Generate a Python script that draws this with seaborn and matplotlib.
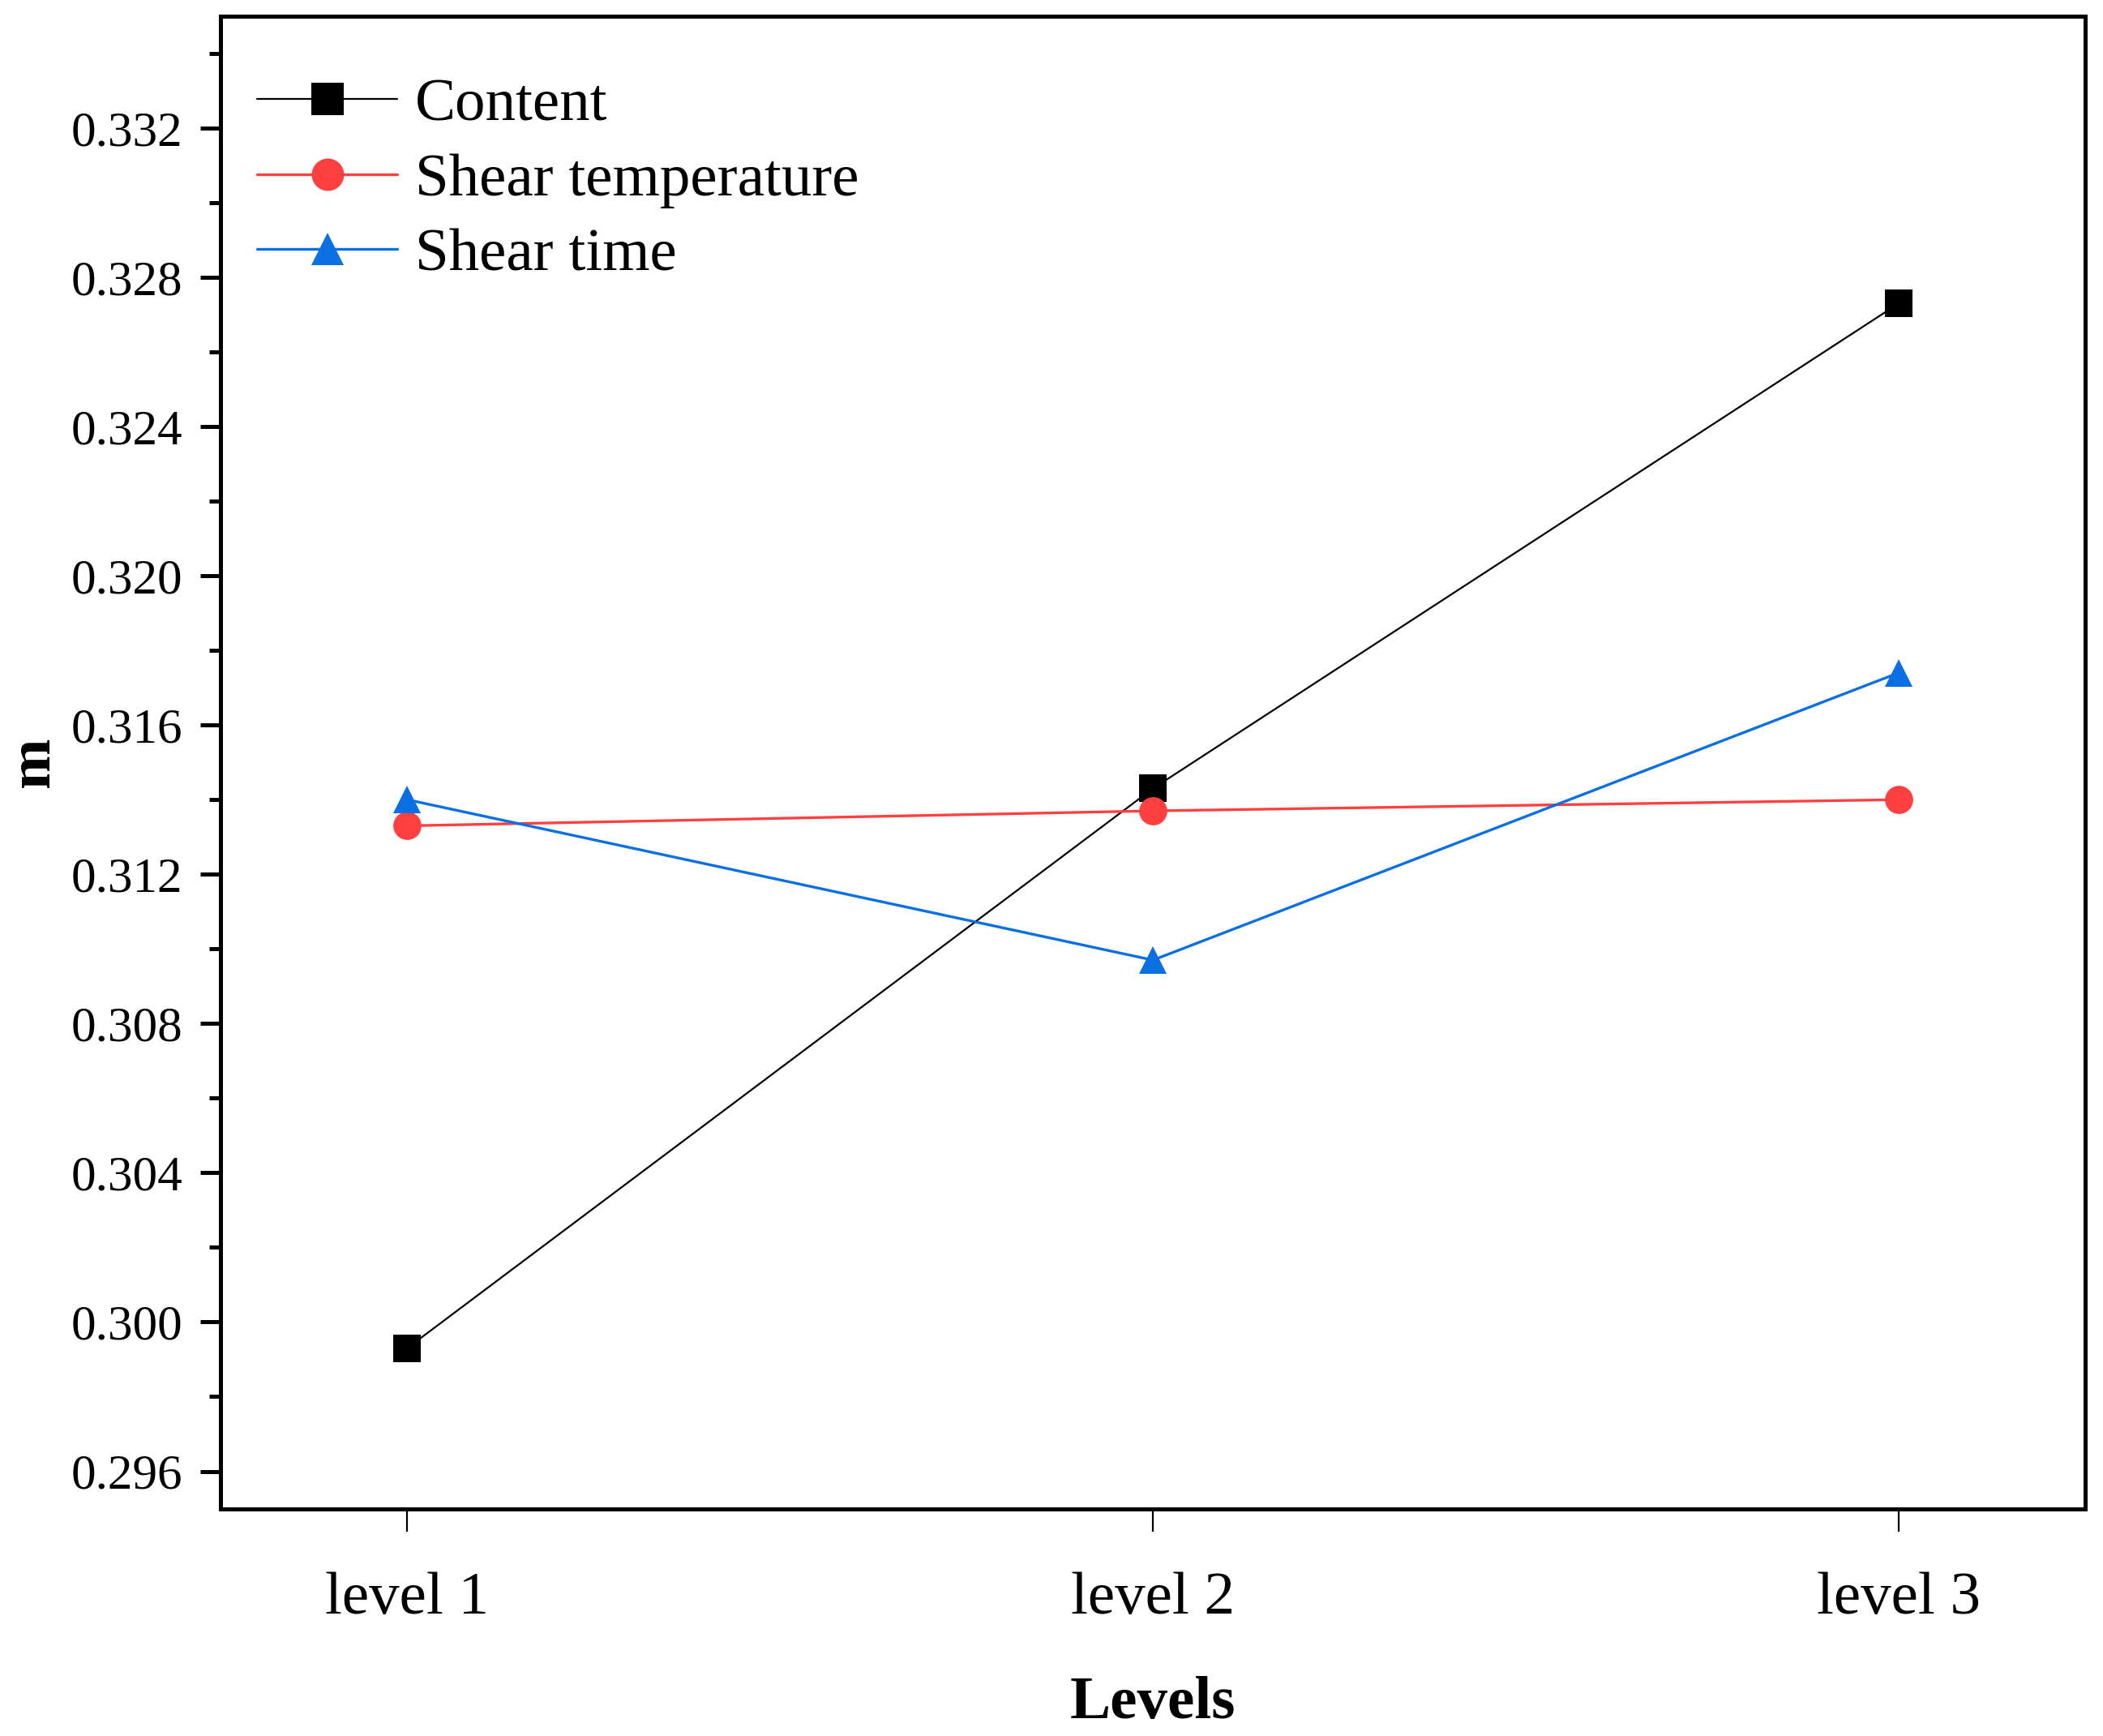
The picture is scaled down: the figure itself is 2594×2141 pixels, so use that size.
import pandas as pd
import seaborn as sns
import matplotlib.pyplot as plt
from matplotlib.ticker import MultipleLocator

levels = ['level 1', 'level 2', 'level 3']
content = [0.2993, 0.3143, 0.3273]
shear_temperature = [0.3133, 0.3137, 0.3140]
shear_time = [0.3140, 0.3097, 0.3174]

series = {'Content': content, 'Shear temperature': shear_temperature, 'Shear time': shear_time}
colors = {'Content': 'black', 'Shear temperature': '#FF4040', 'Shear time': '#0A6FE3'}
markers = {'Content': 's', 'Shear temperature': 'o', 'Shear time': '^'}
widths = {'Content': 0.8, 'Shear temperature': 1.2, 'Shear time': 1.2}

sns.set_style('ticks')
plt.rcParams['font.family'] = ['Liberation Serif', 'DejaVu Serif']
plt.rcParams['text.color'] = 'black'
plt.rcParams['axes.labelcolor'] = 'black'
plt.rcParams['xtick.color'] = 'black'
plt.rcParams['ytick.color'] = 'black'

fig = plt.figure(figsize=(12.97, 10.705), dpi=200)
ax = fig.add_axes([0.105, 0.131, 0.8865, 0.8597])

for name, vals in series.items():
  df = pd.DataFrame({'level': range(len(levels)), 'm': vals})
  sns.lineplot(data=df, x='level', y='m', ax=ax, color=colors[name], marker=markers[name],
               markersize=12.5, markeredgewidth=0, linewidth=widths[name], label=name)

ax.set_xlim(-0.25, 2.25)
ax.set_ylim(0.295, 0.335)
ax.set_xticks(range(len(levels)))
ax.set_xticklabels(levels)
ax.yaxis.set_major_locator(MultipleLocator(0.004))
ax.yaxis.set_minor_locator(MultipleLocator(0.002))
ax.yaxis.set_major_formatter(plt.FuncFormatter(lambda v, p: f'{v:.3f}'))

for s in ax.spines.values():
  s.set_linewidth(1.8)
  s.set_color('black')

ax.tick_params(axis='y', which='major', direction='out', length=9, width=1.8, labelsize=22, pad=8)
ax.tick_params(axis='y', which='minor', direction='out', length=5, width=1.8)
ax.tick_params(axis='x', which='major', direction='out', length=10, width=0.8, labelsize=27, pad=18)

ax.set_xlabel('Levels', fontsize=27, fontweight='bold', labelpad=22)
ax.set_ylabel('m', fontsize=27, fontweight='bold', labelpad=4)

ax.legend(loc='upper left', frameon=False, fontsize=27, handlelength=2.3, markerscale=1.15,
          labelspacing=0.32, borderaxespad=0.2, handletextpad=0.3, bbox_to_anchor=(0.0, 0.983))

plt.savefig('out.png', dpi=200)
plt.close()
